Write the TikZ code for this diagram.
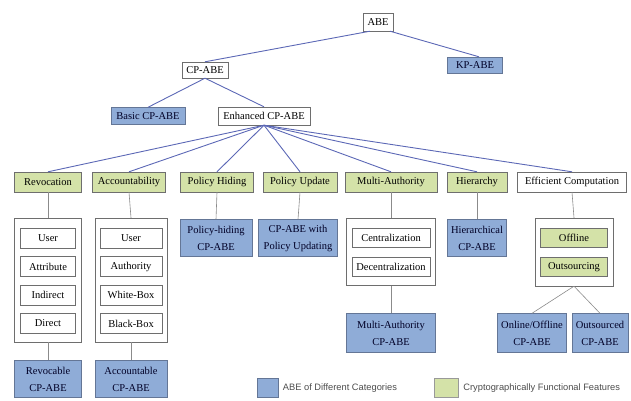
\documentclass[tikz,border=0pt]{standalone}
\usepackage{fontspec}
\setmainfont{Liberation Serif}
\setsansfont{Liberation Sans}
\usepackage{tikz}
\usetikzlibrary{positioning}
\definecolor{catblue}{RGB}{143,172,215}
\definecolor{featgreen}{RGB}{212,226,168}
\definecolor{linkblue}{RGB}{92,104,182}
\definecolor{boxgray}{RGB}{110,110,110}
\definecolor{catedge}{RGB}{100,118,150}

\tikzset{
	plain/.style={draw=boxgray, fill=white, inner sep=0pt, align=center, font=\fontsize{10.5}{17}\selectfont},
	cat/.style={plain, draw=catedge, fill=catblue, text=black!85!blue},
	feat/.style={plain, fill=featgreen},
	grp/.style={draw=boxgray, fill=white, inner sep=0pt},
	link/.style={draw=linkblue, line width=0.9pt},
	drop/.style={draw=boxgray!80, line width=0.6pt}
}

\begin{document}
\begin{tikzpicture}[x=1pt, y=-1pt]
	\useasboundingbox (0,0) rectangle (631,401);
	% top of the tree
	\node[plain, minimum width=30, minimum height=18] (abe) at (378,22) {ABE};
	\node[plain, minimum width=46, minimum height=16] (cpabe) at (205,70) {CP-ABE};
	\node[cat, minimum width=55, minimum height=16] (kpabe) at (475,65) {KP-ABE};
	\node[cat, minimum width=74, minimum height=17] (basic) at (148,116) {Basic CP-ABE};
	\node[plain, minimum width=92, minimum height=18] (enh) at (264,116) {Enhanced CP-ABE};
	\draw[link] ([xshift=-8pt]abe.south) -- (cpabe.north);
	\draw[link] ([xshift=12pt]abe.south) -- ([xshift=4pt]kpabe.north);
	\draw[link] (cpabe.south) -- (basic.north);
	\draw[link] (cpabe.south) -- (enh.north);

	% functional features
	\node[feat, minimum width=67, minimum height=20] (revo) at (48,182) {Revocation};
	\node[feat, minimum width=73, minimum height=20] (acc) at (129,182) {Accountability};
	\node[feat, minimum width=73, minimum height=20] (phide) at (217,182) {Policy Hiding};
	\node[feat, minimum width=74, minimum height=20] (pupd) at (300,182) {Policy Update};
	\node[feat, minimum width=92, minimum height=20] (multi) at (391,182) {Multi-Authority};
	\node[feat, minimum width=60, minimum height=20] (hier) at (477,182) {Hierarchy};
	\node[plain, minimum width=109, minimum height=20] (effc) at (572,182) {Efficient Computation};
	\foreach \f in {revo,acc,phide,pupd,multi,hier,effc}
		\draw[link] (enh.south) -- (\f.north);

	% revocation and accountability groups
	\node[grp, minimum width=67, minimum height=124] (revogrp) at (48,280) {};
	\node[grp, minimum width=72, minimum height=124] (accgrp) at (131,280) {};
	\foreach \t [count=\i] in {User,Attribute,Indirect,Direct}
		\node[plain, minimum width=55, minimum height=20] (revo\i) at (48,238+28.5*\i-28.5) {\t};
	\foreach \t [count=\i] in {User,Authority,White-Box,Black-Box}
		\node[plain, minimum width=62, minimum height=20] (acc\i) at (131,238+28.5*\i-28.5) {\t};
	\node[cat, minimum width=67, minimum height=37] (revabe) at (48,379) {Revocable\\CP-ABE};
	\node[cat, minimum width=72, minimum height=37] (accabe) at (131,379) {Accountable\\CP-ABE};
	\draw[drop] (revo.south) -- (revogrp.north);
	\draw[drop] (revogrp.south) -- (revabe.north);
	\draw[drop] (acc.south) -- (accgrp.north);
	\draw[drop] (accgrp.south) -- (accabe.north);

	% policy and hierarchy schemes
	\node[cat, minimum width=72, minimum height=37] (phabe) at (216,238) {Policy-hiding\\CP-ABE};
	\node[cat, minimum width=79, minimum height=37] (puabe) at (298,238) {CP-ABE with\\Policy Updating};
	\node[cat, minimum width=59, minimum height=37] (hiabe) at (477,238) {Hierarchical\\CP-ABE};
	\draw[drop] (phide.south) -- (phabe.north);
	\draw[drop] (pupd.south) -- (puabe.north);
	\draw[drop] (hier.south) -- (hiabe.north);

	% multi-authority group
	\node[grp, minimum width=89, minimum height=67] (multigrp) at (391,252) {};
	\node[plain, minimum width=78, minimum height=19] (cent) at (391,238) {Centralization};
	\node[plain, minimum width=78, minimum height=19] (decent) at (391,267) {Decentralization};
	\node[cat, minimum width=89, minimum height=39] (maabe) at (391,333) {Multi-Authority\\CP-ABE};
	\draw[drop] (multi.south) -- (multigrp.north);
	\draw[drop] (multigrp.south) -- (maabe.north);

	% efficient computation group
	\node[grp, minimum width=78, minimum height=68] (effgrp) at (574,252) {};
	\node[feat, minimum width=67, minimum height=19] (offl) at (574,238) {Offline};
	\node[feat, minimum width=67, minimum height=19] (outs) at (574,267) {Outsourcing};
	\node[cat, minimum width=69, minimum height=39] (ooabe) at (532,333) {Online/Offline\\CP-ABE};
	\node[cat, minimum width=56, minimum height=39] (osabe) at (600,333) {Outsourced\\CP-ABE};
	\draw[drop] (effc.south) -- (effgrp.north);
	\draw[drop] (effgrp.south) -- (ooabe.north);
	\draw[drop] (effgrp.south) -- (osabe.north);

	% legend
	\node[draw=catedge, fill=catblue, minimum width=21, minimum height=19, inner sep=0pt] (keyblue) at (268,388) {};
	\node[right=4pt of keyblue, inner sep=0pt, text=black!70, font=\sffamily\fontsize{9.3}{11}\selectfont] (keybluetxt) {ABE of Different Categories};
	\node[draw=boxgray!70, fill=featgreen, minimum width=24, minimum height=19, inner sep=0pt] (keygreen) at (446,388) {};
	\node[right=5pt of keygreen, inner sep=0pt, text=black!70, font=\sffamily\fontsize{9.3}{11}\selectfont] (keygreentxt) {Cryptographically Functional Features};
\end{tikzpicture}
\end{document}
